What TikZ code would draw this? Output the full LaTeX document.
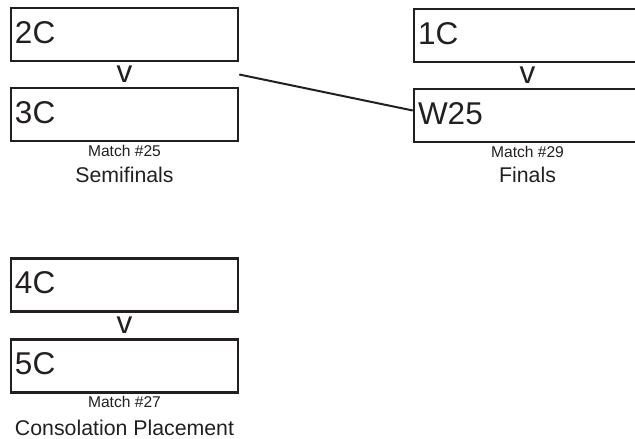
\documentclass[tikz,border=0pt]{standalone}
\usepackage{fontspec}
\setmainfont{Liberation Sans}
\usetikzlibrary{calc}
\definecolor{ink}{HTML}{231F20}
\begin{document}
\begin{tikzpicture}[x=1pt,y=-1pt,
  slot/.style={draw=ink,line width=2.5pt,minimum width=227pt,minimum height=53pt,
    inner xsep=4pt,inner ysep=0pt,text width=219pt,align=left,text=ink,
    font=\fontsize{31.5}{31.5}\selectfont,text depth=4.5pt},
  vs/.style={inner sep=0pt,text=ink,font=\fontsize{31.5}{31.5}\selectfont},
  matchlbl/.style={inner sep=0pt,text=ink,font=\fontsize{15.6}{15.6}\selectfont},
  roundlbl/.style={inner sep=0pt,text=ink,font=\fontsize{21.3}{21.3}\selectfont},
  link/.style={draw=ink,line width=2pt}]
\useasboundingbox (0,0) rectangle (635,439);
% Semifinals
\node[slot] (a) at (124.5,34.5) {2C};
\node[slot] (b) at (124.5,114.5) {3C};
\node[vs] (v1) at ($(a.south)!0.5!(b.north)$) {v};
\node[matchlbl] (m25) at (124.5,151) {Match \#25};
\node[roundlbl] (r1) at (124.5,175) {Semifinals};
% Finals
\node[slot] (c) at (527.5,35.5) {1C};
\node[slot] (d) at (527.5,115.5) {W25};
\node[vs] (v2) at ($(c.south)!0.5!(d.north)$) {v};
\node[matchlbl] (m29) at (527.5,152) {Match \#29};
\node[roundlbl] (r2) at (527.5,175) {Finals};
% Consolation
\node[slot] (e) at (124.5,285) {4C};
\node[slot] (f) at (124.5,366) {5C};
\node[vs] (v3) at ($(e.south)!0.5!(f.north)$) {v};
\node[matchlbl] (m27) at (124.5,401.5) {Match \#27};
\node[roundlbl] (r3) at (124.5,428) {Consolation Placement};
% connector
\coordinate (out25) at ($(a.south east)!0.5!(b.north east)$);
\draw[link] (out25) -- ($(d.west)+(0,-5)$);
\end{tikzpicture}
\end{document}
